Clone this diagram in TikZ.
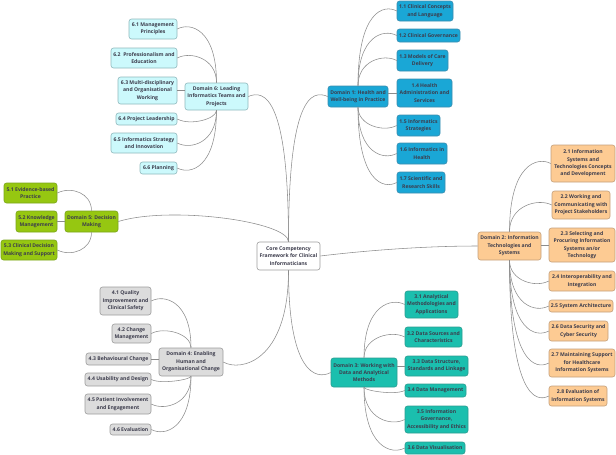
\documentclass[tikz,border=0pt]{standalone}
\usepackage{fontspec}
\setmainfont{Open Sans}
\usetikzlibrary{calc}
\definecolor{cA}{HTML}{1AA7D6}\definecolor{cAd}{HTML}{3C8DAE}
\definecolor{cB}{HTML}{FDCB93}\definecolor{cBd}{HTML}{C4A07C}
\definecolor{cC}{HTML}{1BBFAE}\definecolor{cCd}{HTML}{2C9C90}
\definecolor{cD}{HTML}{DCDCDC}\definecolor{cDd}{HTML}{9C9C9C}
\definecolor{cE}{HTML}{96C711}\definecolor{cEd}{HTML}{7AA51A}
\definecolor{cF}{HTML}{CCF9FC}\definecolor{cFd}{HTML}{8FB8BC}
\definecolor{txt}{HTML}{3C3C4C}
\definecolor{lnk}{HTML}{8C8C8C}
\begin{document}
\begin{tikzpicture}[x=1pt,y=-1pt,
  box/.style={rounded corners=2.5pt, line width=0.6pt, align=center, inner xsep=1pt, inner ysep=1pt,
    text=txt, font=\bfseries\fontsize{5.1}{7.4}\selectfont},
  dA/.style={box, fill=cA, draw=cAd},
  dB/.style={box, fill=cB, draw=cBd},
  dC/.style={box, fill=cC, draw=cCd},
  dD/.style={box, fill=cD, draw=cDd},
  dE/.style={box, fill=cE, draw=cEd},
  dF/.style={box, fill=cF, draw=cFd},
  root/.style={box, fill=white, draw=cDd},
  link/.style={draw=lnk, line width=0.55pt},
  br/.style={to path={.. controls (\tikztostart |- \tikztotarget) and ($(\tikztotarget)+(#1)$) .. (\tikztotarget)}}
]
\useasboundingbox (0,0) rectangle (616,455);

% central
\node[root, minimum width=63, minimum height=28] (c) at (288.5,256) {Core Competency\\Framework for Clinical\\Informaticians};

% domain 6
\node[dF, minimum width=63, minimum height=27] (d6) at (216.5,96.5) {Domain 6: Leading\\Informatics Teams and\\Projects};
\node[dF, minimum width=48, minimum height=20] (s61) at (153,29) {6.1 Management\\Principles};
\node[dF, minimum width=66, minimum height=20] (s62) at (144,58) {6.2~ Professionalism and\\Education};
\node[dF, minimum width=59, minimum height=27] (s63) at (147.5,90.5) {6.3 Multi-disciplinary\\and Organisational\\Working};
\node[dF, minimum width=61, minimum height=12] (s64) at (146.5,119) {6.4 Project Leadership};
\node[dF, minimum width=66, minimum height=20] (s65) at (144,143) {6.5 Informatics Strategy\\and Innovation};
\node[dF, minimum width=37, minimum height=12] (s66) at (158.5,168) {6.6 Planning};

% domain 5
\node[dE, minimum width=53, minimum height=21] (d5) at (91.5,221.5) {Domain 5: Decision\\Making};
\node[dE, minimum width=53, minimum height=20] (s51) at (30.5,193) {5.1 Evidence-based\\Practice};
\node[dE, minimum width=41, minimum height=21] (s52) at (36.5,221.5) {5.2 Knowledge\\Management};
\node[dE, minimum width=56, minimum height=20] (s53) at (29,250) {5.3 Clinical Decision\\Making and Support};

% domain 4
\node[dD, minimum width=64, minimum height=28] (d4) at (191,362) {Domain 4: Enabling\\Human and\\Organisational Change};
\node[dD, minimum width=51, minimum height=28] (s41) at (125.5,301) {4.1 Quality\\Improvement and\\Clinical Safety};
\node[dD, minimum width=39, minimum height=19] (s42) at (131.5,333.5) {4.2 Change\\Management};
\node[dD, minimum width=65, minimum height=12] (s43) at (118.5,359) {4.3 Behavioural Change};
\node[dD, minimum width=66, minimum height=13] (s44) at (118,379.5) {4.4 Usability and Design};
\node[dD, minimum width=66, minimum height=20] (s45) at (118,404) {4.5 Patient Involvement\\and Engagement};
\node[dD, minimum width=41, minimum height=11] (s46) at (130.5,429.5) {4.6 Evaluation};

% domain 1
\node[dA, minimum width=60, minimum height=21] (d1) at (358,96.5) {Domain 1: Health and\\Well-being in Practice};
\node[dA, minimum width=56, minimum height=20] (s11) at (425,11) {1.1 Clinical Concepts\\and Language};
\node[dA, minimum width=63, minimum height=13] (s12) at (428.5,35.5) {1.2 Clinical Governance};
\node[dA, minimum width=51, minimum height=21] (s13) at (422.5,60.5) {1.3 Models of Care\\Delivery};
\node[dA, minimum width=55, minimum height=28] (s14) at (424.5,93) {1.4 Health\\Administration and\\Services};
\node[dA, minimum width=43, minimum height=21] (s15) at (418.5,125.5) {1.5 Informatics\\Strategies};
\node[dA, minimum width=50, minimum height=21] (s16) at (422,153.5) {1.6 Informatics in\\Health};
\node[dA, minimum width=48, minimum height=21] (s17) at (421,182.5) {1.7 Scientific and\\Research Skills};

% domain 2
\node[dB, minimum width=63, minimum height=28] (d2) at (509.5,246) {Domain 2: Information\\Technologies and\\Systems};
\node[dB, minimum width=64, minimum height=37] (s21) at (583,163.5) {2.1 Information\\Systems and\\Technologies Concepts\\and Development};
\node[dB, minimum width=58, minimum height=28] (s22) at (581,205) {2.2 Working and\\Communicating with\\Project Stakeholders};
\node[dB, minimum width=66, minimum height=34] (s23) at (582,245) {2.3 Selecting and\\Procuring Information\\Systems an/or\\Technology};
\node[dB, minimum width=66, minimum height=20] (s24) at (582,281) {2.4 Interoperability and\\Integration};
\node[dB, minimum width=64, minimum height=12] (s25) at (581,306) {2.5 System Architecture};
\node[dB, minimum width=59, minimum height=20] (s26) at (578.5,331) {2.6 Data Security and\\Cyber Security};
\node[dB, minimum width=66, minimum height=28] (s27) at (582,363) {2.7 Maintaining Support\\for Healthcare\\Information Systems};
\node[dB, minimum width=58, minimum height=20] (s28) at (578,396) {2.8 Evaluation of\\Information Systems};

% domain 3
\node[dC, minimum width=66, minimum height=29] (d3) at (364,372.5) {Domain 3: Working with\\Data and Analytical\\Methods};
\node[dC, minimum width=53, minimum height=27] (s31) at (431.5,304.5) {3.1 Analytical\\Methodologies and\\Applications};
\node[dC, minimum width=57, minimum height=20] (s32) at (433.5,337) {3.2 Data Sources and\\Characteristics};
\node[dC, minimum width=63, minimum height=20] (s33) at (436.5,366) {3.3 Data Structure,\\Standards and Linkage};
\node[dC, minimum width=61, minimum height=13] (s34) at (435.5,390.5) {3.4 Data Management};
\node[dC, minimum width=63, minimum height=27] (s35) at (436.5,419.5) {3.5 Information\\Governance,\\Accessibility and Ethics};
\node[dC, minimum width=60, minimum height=12] (s36) at (435,448) {3.6 Data Visualisation};

% main links
\draw[link] (c.north) to[br={16,-7}] (d6.east);
\draw[link] (c.north) to[br={52,-16}] (d5.east);
\draw[link] (c.north) to[br={-16,-7}] (d1.west);
\draw[link] (c.east) .. controls +(50,-6) and +(-50,0) .. (d2.west);
\draw[link] (c.south) to[br={17,10}] (d4.east);
\draw[link] (c.south) to[br={-15,8}] (d3.west);

% domain 6 links
\draw[link] (d6.north) to[br={13,-7}] (s61.east);
\draw[link] (d6.north) to[br={13,-7}] (s62.east);
\draw[link] (d6.west |- s63.east) -- (s63.east);
\draw[link] (d6.south) to[br={13,7}] (s64.east);
\draw[link] (d6.south) to[br={13,7}] (s65.east);
\draw[link] (d6.south) to[br={13,7}] (s66.east);

% domain 5 links
\draw[link] (d5.north) to[br={14,-7}] (s51.east);
\draw[link] (d5.west |- s52.east) -- (s52.east);
\draw[link] (d5.south) to[br={14,7}] (s53.east);

% domain 4 links
\draw[link] (d4.north) to[br={13,-7}] (s41.east);
\draw[link] (d4.north) to[br={13,-7}] (s42.east);
\draw[link] (d4.west |- s43.east) -- (s43.east);
\draw[link] (d4.south) to[br={10,5}] (s44.east);
\draw[link] (d4.south) to[br={13,7}] (s45.east);
\draw[link] (d4.south) to[br={13,7}] (s46.east);

% domain 1 links
\draw[link] (d1.north) to[br={-13,-7}] (s11.west);
\draw[link] (d1.north) to[br={-13,-7}] (s12.west);
\draw[link] (d1.north) to[br={-13,-7}] (s13.west);
\draw[link] (d1.east |- s14.west) -- (s14.west);
\draw[link] (d1.south) to[br={-13,7}] (s15.west);
\draw[link] (d1.south) to[br={-13,7}] (s16.west);
\draw[link] (d1.south) to[br={-13,7}] (s17.west);

% domain 2 links
\draw[link] (d2.north) to[br={-13,-7}] (s21.west);
\draw[link] (d2.north) to[br={-13,-7}] (s22.west);
\draw[link] (d2.east |- s23.west) -- (s23.west);
\draw[link] (d2.south) to[br={-13,7}] (s24.west);
\draw[link] (d2.south) to[br={-13,7}] (s25.west);
\draw[link] (d2.south) to[br={-13,7}] (s26.west);
\draw[link] (d2.south) to[br={-13,7}] (s27.west);
\draw[link] (d2.south) to[br={-13,7}] (s28.west);

% domain 3 links
\draw[link] (d3.north) to[br={-13,-7}] (s31.west);
\draw[link] (d3.north) to[br={-13,-7}] (s32.west);
\draw[link] (d3.east |- s33.west) -- (s33.west);
\draw[link] (d3.south) to[br={-10,5}] (s34.west);
\draw[link] (d3.south) to[br={-13,7}] (s35.west);
\draw[link] (d3.south) to[br={-13,7}] (s36.west);
\end{tikzpicture}
\end{document}
